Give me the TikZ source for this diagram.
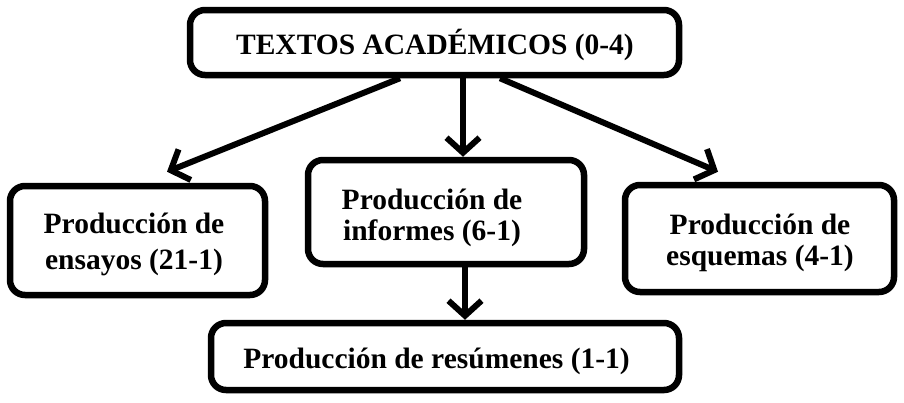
\documentclass[tikz,border=0pt]{standalone}
\usepackage{fontspec}
\setmainfont{Liberation Serif}
\usetikzlibrary{arrows.meta}
\begin{document}
\begin{tikzpicture}[x=1pt,y=-1pt,
  box/.style={draw=black, line width=6.5pt, rounded corners=15pt, fill=white, inner sep=0pt},
  txt/.style={font=\fontsize{29.5}{31}\selectfont\bfseries, align=center, inner sep=0pt},
  arr/.style={line width=6pt, -{Straight Barb[length=15pt,width=33pt]}}]
\useasboundingbox (0,0) rectangle (904,402);
\fill[white] (0,0) rectangle (904,402);
% boxes
\node[box, minimum width=489pt, minimum height=65pt] (top) at (434.5,42.5) {};
\node[box, minimum width=255pt, minimum height=109pt] (L) at (137.5,240.5) {};
\node[box, minimum width=276pt, minimum height=104pt] (M) at (446,212) {};
\node[box, minimum width=269pt, minimum height=107pt] (R) at (759.5,238.5) {};
\node[box, minimum width=468pt, minimum height=67pt] (B) at (445,356.5) {};
% texts
\node[txt] (topt) at (435,45) {TEXTOS ACADÉMICOS (0-4)};
\node[txt, font=\fontsize{29.5}{36}\selectfont\bfseries] (Lt) at (134,244) {Producción de\\ensayos (21-1)};
\node[txt] (Mt) at (432,218) {Producción de\\informes (6-1)};
\node[txt] (Rt) at (760,243) {Producción de\\esquemas (4-1)};
\node[txt] (Bt) at (436.5,361) {Producción de resúmenes (1-1)};
% arrows
\draw[arr] ([xshift=-34.5pt]top.south) -- ([xshift=29.5pt,yshift=11pt]L.north);
\draw[arr] ([xshift=28.5pt]top.south) -- ([xshift=17pt]M.north);
\draw[arr] ([xshift=65.5pt]top.south) -- ([xshift=-41.5pt,yshift=10pt]R.north);
\draw[arr] ([xshift=19pt]M.south) -- ([xshift=20pt]B.north);
\end{tikzpicture}
\end{document}
